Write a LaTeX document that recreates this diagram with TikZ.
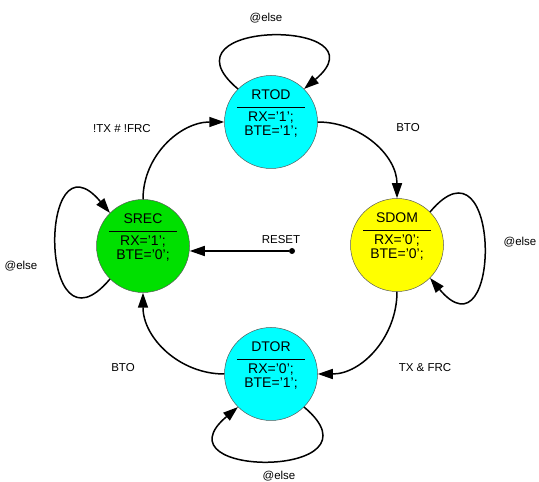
\documentclass[tikz,border=0pt]{standalone}
\usepackage{fontspec}
\setmainfont{Liberation Sans}
\usetikzlibrary{arrows.meta}

\definecolor{idlecyan}{RGB}{0,255,255}
\definecolor{domyellow}{RGB}{255,255,0}
\definecolor{recgreen}{RGB}{0,224,0}

% state text: name, bar, two outputs (baseline of the name sits 23pt above the centre)
\newcommand{\stbody}[3]{\raisebox{0pt}[0pt][44pt]{\begin{tabular}[t]{@{}c@{}}#1\\[-7.5pt]\rule[-1.7pt]{68pt}{1.5pt}\\#2\\#3\end{tabular}}}

\begin{document}
\begin{tikzpicture}[x=1pt,y=1pt,
    state/.style={circle,draw=gray!70!black,line width=0.5pt,minimum size=93pt,inner sep=0pt,
        font=\fontsize{14}{14.3}\selectfont},
    edge/.style={line width=1.5pt,-{Triangle[length=15pt,width=10pt]}},
    lbl/.style={font=\fontsize{11.5}{13}\selectfont,inner sep=1pt}]
        \useasboundingbox (0,0) rectangle (539,482);
        \node[state,fill=idlecyan] (rtod) at (271,360) {\stbody{RTOD}{RX='1';}{BTE='1';}};
        \node[state,fill=domyellow] (sdom) at (397,237) {\stbody{SDOM}{RX='0';}{BTE='0';}};
        \node[state,fill=recgreen] (srec) at (143,236) {\stbody{SREC}{RX='1';}{BTE='0';}};
        \node[state,fill=idlecyan] (dtor) at (271,108) {\stbody{DTOR}{RX='0';}{BTE='1';}};
        \node[circle,fill=black,inner sep=0pt,minimum size=6pt] (rst) at (292,231) {};
        % transitions
        \draw[edge] (rtod.east) to[out=0,in=90] (sdom.north);
        \draw[edge] (sdom.south) to[out=-90,in=0] (dtor.east);
        \draw[edge] (dtor.west) to[out=180,in=-90] (srec.south);
        \draw[edge] (srec.north) to[out=90,in=180] (rtod.west);
        \draw[edge] (rst) -- (rst -| srec.east);
        % self loops
        \draw[edge] (rtod.135) .. controls +(140:110) and +(40:110) .. (rtod.45);
        \draw[edge] (sdom.45) .. controls +(50:112) and +(-50:112) .. (sdom.-45);
        \draw[edge] (dtor.-45) .. controls +(-40:112) and +(-140:112) .. (dtor.-135);
        \draw[edge] (srec.-135) .. controls +(-130:112) and +(130:112) .. (srec.135);
        % labels
        \node[lbl] (l-rtod) at (266,464) {@else};
        \node[lbl] (l-sdom) at (520,240) {@else};
        \node[lbl] (l-srec) at (21,216) {@else};
        \node[lbl] (l-dtor) at (279,6) {@else};
        \node[lbl] (l-bto1) at (408,354) {BTO};
        \node[lbl] (l-txfrc) at (425,114) {TX \& FRC};
        \node[lbl] (l-bto2) at (123,114) {BTO};
        \node[lbl] (l-ntx) at (122,353) {!TX \# !FRC};
        \node[lbl] (l-reset) at (281,242) {RESET};
    \end{tikzpicture}
\end{document}
